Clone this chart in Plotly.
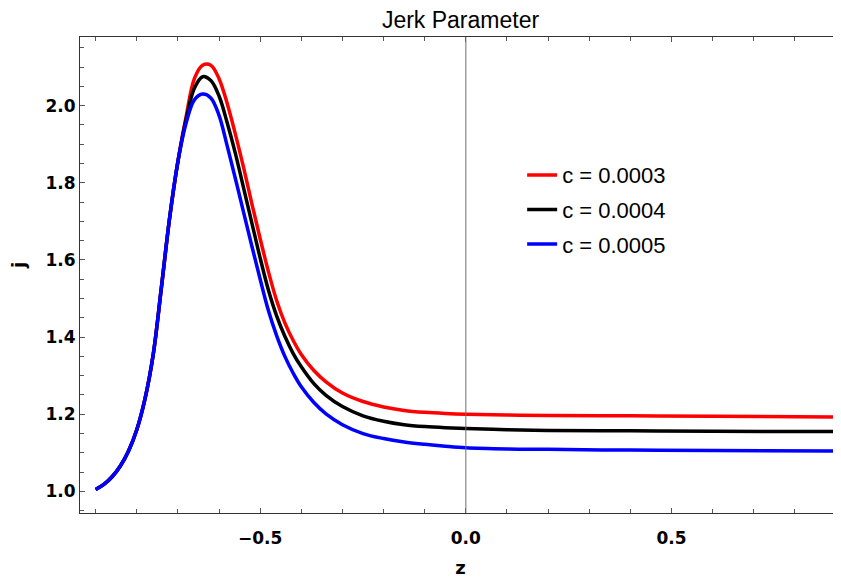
import plotly.graph_objects as go

z = [-0.90, -0.88, -0.86, -0.84, -0.82, -0.80, -0.78, -0.76, -0.74, -0.72,
     -0.70, -0.68, -0.66, -0.64, -0.62, -0.60, -0.58, -0.56, -0.54, -0.52,
     -0.50, -0.48, -0.46, -0.44, -0.42, -0.40, -0.37, -0.34, -0.30, -0.25,
     -0.20, -0.15, -0.10, -0.05, 0.00, 0.10, 0.20, 0.40, 0.60, 0.90]

j_c3 = [1.005, 1.018, 1.038, 1.066, 1.105, 1.160, 1.240, 1.355, 1.530, 1.710,
        1.855, 1.972, 2.070, 2.105, 2.105, 2.070, 2.005, 1.925, 1.838, 1.745,
        1.655, 1.570, 1.495, 1.437, 1.392, 1.355, 1.314, 1.284, 1.255, 1.233,
        1.219, 1.210, 1.205, 1.202, 1.200, 1.198, 1.197, 1.196, 1.195, 1.193]

j_c4 = [1.005, 1.018, 1.038, 1.066, 1.105, 1.160, 1.240, 1.355, 1.530, 1.710,
        1.855, 1.965, 2.045, 2.075, 2.065, 2.025, 1.955, 1.875, 1.785, 1.695,
        1.605, 1.522, 1.455, 1.402, 1.358, 1.323, 1.280, 1.249, 1.220, 1.196,
        1.182, 1.173, 1.168, 1.165, 1.163, 1.160, 1.158, 1.157, 1.156, 1.155]

j_c5 = [1.005, 1.018, 1.038, 1.066, 1.105, 1.160, 1.240, 1.355, 1.530, 1.710,
        1.855, 1.955, 2.015, 2.030, 2.020, 1.975, 1.895, 1.810, 1.722, 1.635,
        1.550, 1.469, 1.404, 1.350, 1.307, 1.271, 1.231, 1.201, 1.173, 1.150,
        1.137, 1.128, 1.122, 1.117, 1.113, 1.110, 1.109, 1.107, 1.106, 1.105]

series_names = ["c = 0.0003", "c = 0.0004", "c = 0.0005"]
series_colors = ["#ff0000", "#000000", "#0000ff"]
series_values = [j_c3, j_c4, j_c5]

x_tickvals = [-0.5, 0.0, 0.5]
x_ticktext = ["\u22120.5", "0.0", "0.5"]
y_tickvals = [1.0, 1.2, 1.4, 1.6, 1.8, 2.0]
y_ticktext = ["1.0", "1.2", "1.4", "1.6", "1.8", "2.0"]

fig = go.Figure()
for name, color, vals in zip(series_names, series_colors, series_values):
    fig.add_trace(go.Scatter(
        x=z, y=vals, mode="lines", name=name, legendgroup=name,
        line=dict(color=color, width=3.5, shape="spline", smoothing=1.0),
    ))

fig.add_vline(x=0, line=dict(color="#707070", width=1))

# page body has an 8px margin: figure is shifted to compensate
fig.update_layout(
    width=833, height=570,
    margin=dict(l=72, r=0, t=29, b=65, autoexpand=False),
    paper_bgcolor="white", plot_bgcolor="white",
    title=dict(text="Jerk Parameter", x=0.5, xref="paper", xanchor="center",
               y=1 - 4 / 570, yref="container", yanchor="top",
               font=dict(family="Liberation Sans", size=23, color="black")),
    legend=dict(x=0.581, y=0.754, xanchor="left", yanchor="top",
                bgcolor="rgba(0,0,0,0)", tracegroupgap=3,
                font=dict(family="Liberation Sans", size=22, color="black")),
    showlegend=True,
    annotations=[dict(text="j", xref="paper", yref="paper", x=-0.0815, y=0.521,
                      xanchor="center", yanchor="middle", textangle=-90, showarrow=False,
                      font=dict(family="DejaVu Sans", size=18, color="black", weight="bold"))],
)

fig.update_xaxes(
    range=[-0.938, 0.912], showgrid=False, zeroline=False, automargin=False,
    showline=True, linecolor="#333333", linewidth=1, mirror="ticks",
    ticks="inside", ticklen=5, tickwidth=1, tickcolor="#555555",
    tickvals=x_tickvals, ticktext=x_ticktext,
    minor=dict(dtick=0.1, tick0=0, ticks="inside", ticklen=4, tickcolor="#555555", showgrid=False),
    tickfont=dict(family="DejaVu Sans", size=17, color="black", weight="bold"),
    ticklabelstandoff=10,
    title=dict(text="z", standoff=13,
               font=dict(family="DejaVu Sans", size=18, color="black", weight="bold")),
)
fig.update_yaxes(
    range=[0.944, 2.178], showgrid=False, zeroline=False, automargin=False,
    showline=True, linecolor="#333333", linewidth=1, mirror=False,
    ticks="inside", ticklen=5, tickwidth=1, tickcolor="#555555",
    tickvals=y_tickvals, ticktext=y_ticktext,
    minor=dict(dtick=0.05, tick0=0, ticks="inside", ticklen=4, tickcolor="#555555", showgrid=False),
    tickfont=dict(family="DejaVu Sans", size=17, color="black", weight="bold"),
    ticklabelstandoff=0,
)

fig.write_html("out.html")
